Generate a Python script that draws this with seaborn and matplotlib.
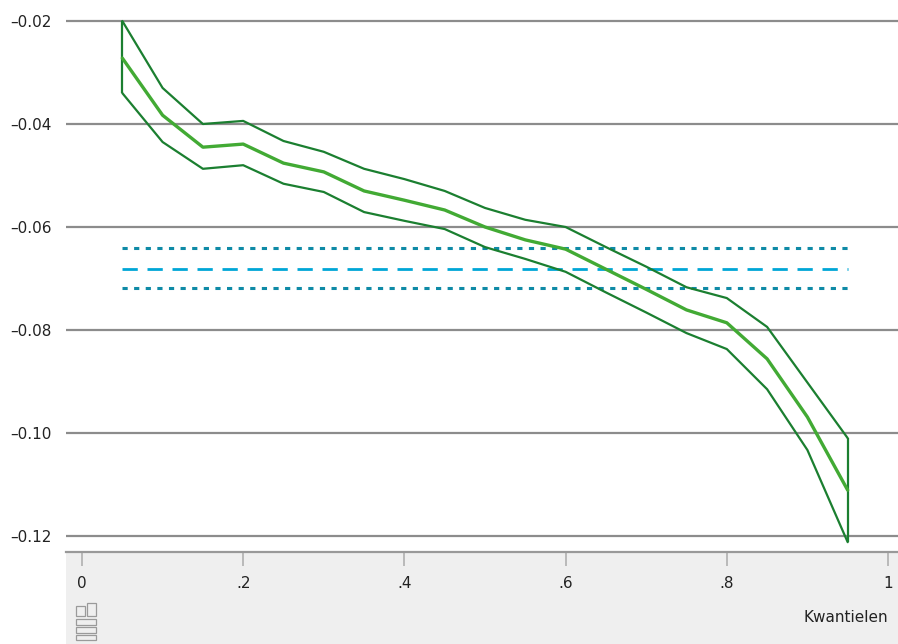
import numpy as np
import pandas as pd
import matplotlib
matplotlib.use("Agg")
import matplotlib.pyplot as plt
import seaborn as sns
from matplotlib.patches import Rectangle

# ---- data ----
quantiles = [0.05, 0.10, 0.15, 0.20, 0.25, 0.30, 0.35, 0.40, 0.45, 0.50,
             0.55, 0.60, 0.65, 0.70, 0.75, 0.80, 0.85, 0.90, 0.95]
upper = [-0.0200, -0.0330, -0.0400, -0.0394, -0.0433, -0.0454, -0.0487, -0.0507, -0.0530, -0.0563,
         -0.0586, -0.0600, -0.0639, -0.0677, -0.0717, -0.0738, -0.0794, -0.0902, -0.1010]
estimate = [-0.0272, -0.0383, -0.0445, -0.0439, -0.0476, -0.0493, -0.0530, -0.0548, -0.0567, -0.0600,
            -0.0625, -0.0643, -0.0682, -0.0721, -0.0761, -0.0786, -0.0856, -0.0969, -0.1111]
lower = [-0.0340, -0.0435, -0.0487, -0.0480, -0.0516, -0.0532, -0.0571, -0.0588, -0.0604, -0.0639,
         -0.0662, -0.0687, -0.0727, -0.0766, -0.0806, -0.0837, -0.0915, -0.1033, -0.1212]
ols_estimate = -0.0682
ols_upper = -0.0641
ols_lower = -0.0718
yticks = [-0.12, -0.10, -0.08, -0.06, -0.04, -0.02]
ytick_labels = ["\u20130.12", "\u20130.10", "\u20130.08", "\u20130.06", "\u20130.04", "\u20130.02"]
xticks = [0, 0.2, 0.4, 0.6, 0.8, 1.0]
xtick_labels = ["0", ".2", ".4", ".6", ".8", "1"]
xlabel = "Kwantielen"

dark_green = "#1b7f30"
light_green = "#42aa34"
teal = "#0e8aa6"
cyan = "#00a6d6"
grid_grey = "#8c8c8c"
band_grey = "#efefef"

sns.set_theme(style="white")
plt.rcParams['font.family'] = ['DejaVu Sans']

W, H = 898, 644
fig = plt.figure(figsize=(W / 100, H / 100), dpi=100)
# grey band below the plot
band = Rectangle((66 / W, 0), 1 - 66 / W, (H - 552) / H,
                 transform=fig.transFigure, facecolor=band_grey,
                 edgecolor="none", zorder=-10)
fig.patches.append(band)
ax = fig.add_axes([66 / W, (H - 552) / H, 1 - 66 / W, 552 / H])
ax.set_zorder(5)
ax.set_facecolor("white")

df = pd.DataFrame({"q": quantiles, "upper": upper, "estimate": estimate, "lower": lower})

for y in yticks:
    ax.axhline(y, color=grid_grey, lw=1.6, zorder=1)

sns.lineplot(data=df, x="q", y="upper", ax=ax, color=dark_green, lw=1.6, zorder=3)
sns.lineplot(data=df, x="q", y="lower", ax=ax, color=dark_green, lw=1.6, zorder=3)
sns.lineplot(data=df, x="q", y="estimate", ax=ax, color=light_green, lw=2.4, zorder=4)
ax.vlines([quantiles[0], quantiles[-1]], [lower[0], lower[-1]], [upper[0], upper[-1]],
          color=dark_green, lw=1.6, zorder=3)

qmin, qmax = quantiles[0], quantiles[-1]
ax.hlines([ols_upper, ols_lower], qmin, qmax, color=teal, lw=2.2,
          linestyles=(0, (1.7, 2.1)), zorder=2)
ax.hlines([ols_estimate], qmin, qmax, color=cyan, lw=2.0,
          linestyles=(0, (5.5, 3.5)), zorder=2)

ax.set_xlim(-16 / 806, 816 / 806)
ax.set_ylim(-0.12 - 16 / 5150, -0.02 + 21 / 5150)

for s in ["top", "right", "left"]:
    ax.spines[s].set_visible(False)
ax.spines["bottom"].set_color("#999999")
ax.spines["bottom"].set_linewidth(1.6)

ax.set_yticks(yticks)
ax.set_yticklabels(ytick_labels, fontsize=11, color="#222222")
ax.tick_params(axis="y", length=0, pad=10)
ax.set_xticks(xticks)
ax.set_xticklabels(xtick_labels, fontsize=11, color="#222222")
ax.tick_params(axis="x", bottom=True, length=10, width=1.2, color="#b0b0b0",
               direction="out", pad=7)
ax.set_xlabel("")
ax.set_ylabel("")

fig.text(888 / W, 1 - 617 / H, xlabel, ha="right", va="center", fontsize=11,
         color="#222222", zorder=10)

# CBS logo approximation
def frect(x0, y0, w, h):
    fig.patches.append(Rectangle((x0 / W, 1 - (y0 + h) / H), w / W, h / H,
                                 transform=fig.transFigure, facecolor="none",
                                 edgecolor="#9a9a9a", lw=0.9, zorder=6))
frect(76, 606, 9, 10)
frect(87, 603, 9, 13)
frect(76, 619, 20, 6)
frect(76, 627, 20, 6)
frect(76, 635, 20, 5)

fig.savefig("out.png", dpi=100)
